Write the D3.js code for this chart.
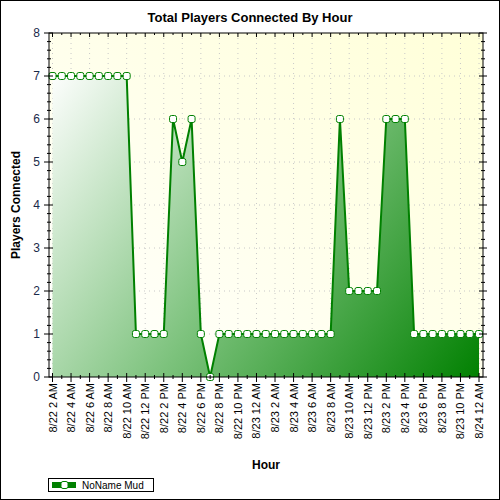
<!DOCTYPE html><html><head><script src="https://cdn.jsdelivr.net/npm/d3@7"></script>
<style>body{margin:0}svg{display:block;font-family:"Liberation Sans",Arial,sans-serif}</style></head><body><script>
const xLabels=["8/22 2 AM","8/22 4 AM","8/22 6 AM","8/22 8 AM","8/22 10 AM","8/22 12 PM","8/22 2 PM","8/22 4 PM","8/22 6 PM","8/22 8 PM","8/22 10 PM","8/23 12 AM","8/23 2 AM","8/23 4 AM","8/23 6 AM","8/23 8 AM","8/23 10 AM","8/23 12 PM","8/23 2 PM","8/23 4 PM","8/23 6 PM","8/23 8 PM","8/23 10 PM","8/24 12 AM"];
const values=[7,7,7,7,7,7,7,7,7,1,1,1,1,6,5,6,1,0,1,1,1,1,1,1,1,1,1,1,1,1,1,6,2,2,2,2,6,6,6,1,1,1,1,1,1,1,1];
const yTicks=[0,1,2,3,4,5,6,7,8];
const W=500,H=500,L=49,R=483,T=33,B=377;
const svg=d3.select("body").append("svg").attr("width",W).attr("height",H);
const defs=svg.append("defs");
const bg=defs.append("linearGradient").attr("id","bg").attr("x1","0").attr("y1","1").attr("x2","1").attr("y2","0");
bg.append("stop").attr("offset","0").attr("stop-color","#ffffff");
bg.append("stop").attr("offset","1").attr("stop-color","#ffffd8");
const ag=defs.append("linearGradient").attr("id","ag").attr("gradientUnits","userSpaceOnUse").attr("x1",L).attr("y1",T+40).attr("x2",R).attr("y2",B);
ag.append("stop").attr("offset","0").attr("stop-color","#ffffff");
ag.append("stop").attr("offset","0.5").attr("stop-color","#7cc27c");
ag.append("stop").attr("offset","1").attr("stop-color","#008000");
svg.append("rect").attr("x",0.5).attr("y",0.5).attr("width",W-1).attr("height",H-1).attr("fill","#fff").attr("stroke","#000");
svg.append("rect").attr("x",L).attr("y",T).attr("width",R-L).attr("height",B-T).attr("fill","url(#bg)");
const x=d3.scaleLinear().domain([0,46]).range([52.5,479]);
const y=d3.scaleLinear().domain([0,8]).range([B,T]);
const g=svg.append("g");
// grid
yTicks.slice(1,-1).forEach(v=>g.append("line").attr("x1",L).attr("x2",R).attr("y1",y(v)).attr("y2",y(v)).attr("stroke","#c8c8c8").attr("stroke-dasharray","1,4"));
xLabels.forEach((d,i)=>g.append("line").attr("x1",x(i*2)).attr("x2",x(i*2)).attr("y1",T).attr("y2",B).attr("stroke","#c8c8c8").attr("stroke-dasharray","1,4"));
// area
const pts=values.map((v,i)=>[i,v]);
g.append("path").attr("d",d3.area().x(d=>x(d[0])).y0(B).y1(d=>y(d[1]))(pts)).attr("fill","url(#ag)");
g.append("path").attr("d",d3.line().x(d=>x(d[0])).y(d=>y(d[1]))(pts)).attr("fill","none").attr("stroke","#008000").attr("stroke-width",2);
g.selectAll(".m").data(pts).join("rect").attr("x",d=>x(d[0])-3.5).attr("y",d=>y(d[1])-3.5).attr("width",7).attr("height",7).attr("rx",2).attr("fill","#fff").attr("stroke","#008000");
// axes frame
svg.append("rect").attr("x",L).attr("y",T).attr("width",R-L).attr("height",B-T).attr("fill","none").attr("stroke","#000");
const ax=svg.append("g").attr("stroke","#000");
const yMinor=d3.range(0,8.01,0.2);
yMinor.forEach(v=>{const maj=Math.abs(v-Math.round(v))<1e-6;
 ax.append("line").attr("x1",maj?L-5:L-2).attr("x2",L+(maj?4:2)).attr("y1",y(v)).attr("y2",y(v));
 ax.append("line").attr("x1",R-(maj?4:2)).attr("x2",R+(maj?4:2)).attr("y1",y(v)).attr("y2",y(v));});
d3.range(0,47).forEach(h=>{const maj=h%2==0;
 ax.append("line").attr("x1",x(h)).attr("x2",x(h)).attr("y1",B-(maj?4:2)).attr("y2",B+(maj?5:2));
 ax.append("line").attr("x1",x(h)).attr("x2",x(h)).attr("y1",T).attr("y2",T+(maj?4:2));});
yTicks.forEach(v=>svg.append("text").attr("x",L-9).attr("y",y(v)+4).attr("text-anchor","end").attr("font-size",12).attr("fill","#1a2a4a").text(v));
xLabels.forEach((d,i)=>svg.append("text").attr("transform",`translate(${x(i*2)+4},${B+6}) rotate(-90)`).attr("text-anchor","end").attr("font-size",11).text(d));
svg.append("text").attr("x",250).attr("y",22).attr("text-anchor","middle").attr("font-weight","bold").attr("font-size",13).text("Total Players Connected By Hour");
svg.append("text").attr("x",266).attr("y",469).attr("text-anchor","middle").attr("font-weight","bold").attr("font-size",12).text("Hour");
svg.append("text").attr("transform","translate(20,205) rotate(-90)").attr("text-anchor","middle").attr("font-weight","bold").attr("font-size",12).text("Players Connected");
// legend
svg.append("rect").attr("x",48.5).attr("y",478.5).attr("width",105).attr("height",13).attr("fill","#fff").attr("stroke","#000");
svg.append("rect").attr("x",52).attr("y",482).attr("width",24).attr("height",6).attr("fill","#008000");
svg.append("rect").attr("x",61).attr("y",481.5).attr("width",7).attr("height",7).attr("rx",2).attr("fill","#fff").attr("stroke","#008000");
svg.append("text").attr("x",82).attr("y",489).attr("font-size",10).text("NoName Mud");
</script></body></html>
